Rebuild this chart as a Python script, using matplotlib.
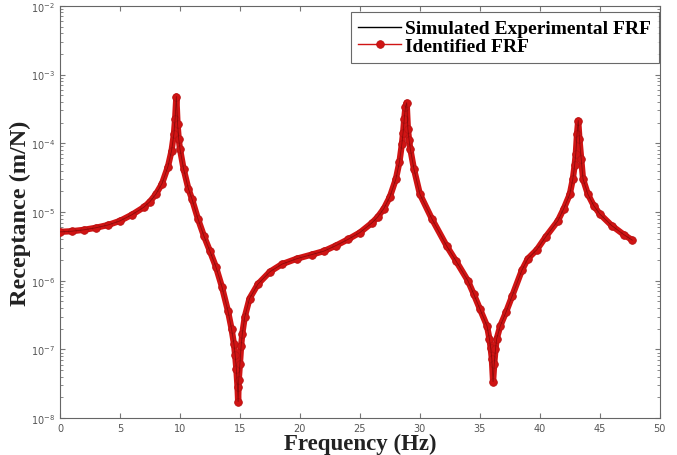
import numpy as np
from matplotlib import pyplot as plt

# frequency (Hz) and log10 of receptance (m/N)
freq = [0, 1, 2, 3, 4, 5, 6, 7, 7.5, 8, 8.5, 9, 9.3, 9.5, 9.6, 9.7,
        9.8, 9.9, 10.0, 10.3, 10.7, 11, 11.5, 12, 12.5, 13, 13.5, 14, 14.3,
        14.5, 14.6, 14.7, 14.8, 14.85,
        14.9, 15.0, 15.1, 15.2, 15.4, 15.8, 16.5, 17.5, 18.5, 19.75, 21, 22,
        23, 24, 25, 26, 26.5, 27, 27.5, 28, 28.3, 28.5, 28.6, 28.7, 28.8,
        28.9, 29.0, 29.1, 29.2, 29.5, 30, 31, 32.25, 33, 34, 34.5, 35, 35.6,
        35.8, 35.9, 36.0, 36.1,
        36.2, 36.3, 36.4, 36.7, 37.2, 37.7, 38.5, 39, 39.75, 40.5, 41.5, 42,
        42.5, 42.75, 42.9, 43.0, 43.1, 43.2,
        43.3, 43.45, 43.6, 44, 44.5, 45, 46, 47, 47.7]
log_h = [-5.29, -5.28, -5.26, -5.23, -5.19, -5.13, -5.04, -4.93, -4.85,
         -4.74, -4.59, -4.34, -4.11, -3.86, -3.64, -3.32,
         -3.72, -3.94, -4.08, -4.37, -4.66, -4.81, -5.10, -5.35, -5.57,
         -5.80, -6.09, -6.44, -6.70, -6.92, -7.08, -7.28, -7.55, -7.76,
         -7.45, -7.21, -6.95, -6.77, -6.53, -6.26, -6.05, -5.87, -5.76,
         -5.68, -5.62, -5.57, -5.49, -5.40, -5.30, -5.16, -5.07, -4.95,
         -4.78, -4.52, -4.27, -4.01, -3.85, -3.64, -3.47,
         -3.41, -3.79, -3.95, -4.08, -4.37, -4.74, -5.10, -5.50, -5.71,
         -6.00, -6.20, -6.41, -6.66, -6.85, -6.98, -7.14, -7.47,
         -7.21, -7.00, -6.85, -6.66, -6.45, -6.22, -5.85, -5.68, -5.55,
         -5.36, -5.13, -4.95, -4.74, -4.52, -4.32, -4.15, -3.86, -3.67,
         -3.94, -4.23, -4.52, -4.74, -4.91, -5.03, -5.20, -5.33, -5.41]

rec = 10 ** np.array(log_h)

fig = plt.figure(figsize=(6.77, 4.56), dpi=100)
ax = fig.add_axes([0.0886, 0.081, 0.886, 0.904])

red = '#d01414'
ax.semilogy(freq, rec, color='black', lw=1.0, zorder=1,
            label='Simulated Experimental FRF')
ax.semilogy(freq, rec, color=red, lw=4.5, zorder=2, solid_capstyle='round')
ax.semilogy(freq, rec, color=red, lw=1.0, marker='o', ms=5.5,
            mfc=red, mec='#b81212', mew=0.6, zorder=3,
            label='Identified FRF')
# thin dark core visible at the sharp tips
ax.semilogy(freq, rec, color='#3a0000', lw=0.6, alpha=0.45, zorder=4)

ax.set_xlim(0, 50)
ax.set_ylim(1e-8, 1e-2)
ax.set_xticks(np.arange(0, 51, 5))
ax.tick_params(which='both', direction='in', top=True, right=True,
               labelsize=7, labelcolor='#555555', color='#777777')
for s in ax.spines.values():
    s.set_color('#666666')
    s.set_linewidth(0.8)

ax.set_xlabel('Frequency (Hz)', labelpad=0, family='Liberation Serif',
              weight='bold', size=16.5, color='#222222')
ax.set_ylabel('Receptance (m/N)', labelpad=0, family='Liberation Serif',
              weight='bold', size=17.5, color='#222222')

leg = ax.legend(loc='upper right', bbox_to_anchor=(0.998, 0.985),
                borderaxespad=0, fancybox=False, handlelength=2.2,
                handletextpad=0.2, borderpad=0.4, labelspacing=0.0,
                prop=dict(family='Liberation Serif', weight='bold', size=14))
leg.get_frame().set_edgecolor('#444444')
leg.get_frame().set_linewidth(0.8)

plt.savefig('out.png', dpi=100)
